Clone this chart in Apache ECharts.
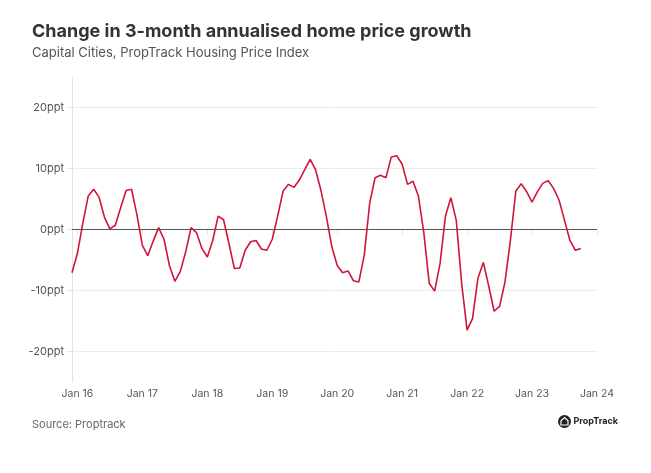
<!DOCTYPE html>
<html>
<head>
<meta charset="utf-8">
<script src="https://cdn.jsdelivr.net/npm/echarts@6/dist/echarts.min.js"></script>
<style>
html,body{margin:0;padding:0;background:#fff;}
#chart{width:651px;height:473px;}
</style>
</head>
<body>
<div id="chart"></div>
<script>
// Monthly observations, Dec 2015 .. Oct 2023 (ppt)
const startYear = 2015, startMonth = 11; // Dec 2015
const endYear = 2024, endMonth = 0;      // axis runs to Jan 2024
const growthChange = [
  -7.1, -3.9, 1.0, 5.5, 6.6, 5.3, 2.0, 0.1, 0.7, 3.6, 6.4, 6.6,
  2.4, -2.6, -4.3, -1.9, 0.3, -1.6, -5.9, -8.5, -6.9, -3.7, 0.3, -0.5,
  -3.1, -4.5, -1.8, 2.2, 1.6, -2.3, -6.4, -6.3, -3.4, -2.0, -1.8, -3.2,
  -3.4, -1.6, 2.2, 6.3, 7.4, 6.9, 8.1, 9.8, 11.5, 9.8, 6.4, 2.1,
  -2.8, -5.9, -7.1, -6.8, -8.4, -8.6, -4.2, 4.3, 8.5, 8.9, 8.5, 11.9,
  12.1, 10.7, 7.4, 7.9, 5.5, -0.5, -8.8, -10.1, -5.6, 2.2, 5.2, 1.5,
  -8.9, -16.5, -14.6, -8.0, -5.4, -9.3, -13.4, -12.6, -8.6, -1.8, 6.3, 7.5,
  6.2, 4.5, 6.2, 7.6, 8.0, 6.7, 4.8, 1.5, -1.8, -3.4, -3.1
];
const yTicks = [-20, -10, 0, 10, 20];
const monthNames = ['Jan','Feb','Mar','Apr','May','Jun','Jul','Aug','Sep','Oct','Nov','Dec'];

const categories = [];
{
  let y = startYear, m = startMonth;
  while (y < endYear || (y === endYear && m <= endMonth)) {
    categories.push(monthNames[m] + ' ' + String(y).slice(2));
    m++; if (m > 11) { m = 0; y++; }
  }
}
const isJan = (idx, val) => String(val).indexOf('Jan') === 0;

const FONT = 'Inter, "Noto Sans", sans-serif';
const chart = echarts.init(document.getElementById('chart'), null, {renderer: 'canvas'});
chart.setOption({
  backgroundColor: '#ffffff',
  animation: false,
  textStyle: {fontFamily: FONT},
  title: [
    {text: 'Change in 3-month annualised home price growth', left: 32, top: 23, padding: 0,
     textStyle: {fontFamily: FONT, fontSize: 18, fontWeight: 'bold', color: '#333'}},
    {text: 'Capital Cities, PropTrack Housing Price Index', left: 32, top: 47, padding: 0,
     textStyle: {fontFamily: FONT, fontSize: 13, fontWeight: 'normal', color: '#555'}},
    {text: 'Source: Proptrack', left: 32, top: 419, padding: 0,
     textStyle: {fontFamily: FONT, fontSize: 11, fontWeight: 'normal', color: '#666'}}
  ],
  grid: {left: 72, right: 54, top: 77, bottom: 91, containLabel: false},
  xAxis: {
    type: 'category',
    data: categories,
    boundaryGap: false,
    axisLine: {show: true, lineStyle: {color: '#e3e3e3'}},
    axisTick: {show: true, interval: isJan, length: 5, lineStyle: {color: '#e3e3e3'}},
    axisLabel: {interval: isJan, color: '#555', fontSize: 10.5, margin: 6, fontFamily: FONT},
    splitLine: {show: false}
  },
  yAxis: {
    type: 'value',
    min: -25, max: 25,
    axisLine: {show: true, lineStyle: {color: '#e3e3e3'}},
    axisTick: {show: true, length: 5, customValues: yTicks, lineStyle: {color: '#e3e3e3'}},
    axisLabel: {customValues: yTicks, color: '#555', fontSize: 11, margin: 8, fontFamily: FONT,
      formatter: v => v + 'ppt'},
    splitLine: {show: true, lineStyle: {color: '#ececec', width: 1}}
  },
  series: [{
    type: 'line',
    data: growthChange,
    symbol: 'none',
    lineStyle: {color: '#d0153b', width: 1.6},
    itemStyle: {color: '#d0153b'},
    z: 3,
    markLine: {
      silent: true, symbol: 'none', label: {show: false},
      lineStyle: {color: '#555', width: 1, type: 'solid'},
      data: [{yAxis: 0}],
      z: 2
    }
  }],
  graphic: [{
    type: 'group', left: 558, top: 415,
    children: [
      {type: 'circle', shape: {cx: 7, cy: 7, r: 6.5}, style: {fill: '#222'}},
      {type: 'polygon', shape: {points: [[7,3],[10.5,6.2],[10.5,10.5],[3.5,10.5],[3.5,6.2]]},
       style: {fill: 'none', stroke: '#fff', lineWidth: 1.2}},
      {type: 'text', x: 16, y: 2.5, style: {text: 'PropTrack', fontSize: 9, fontWeight: 'bold',
       fill: '#222', fontFamily: FONT}}
    ]
  }]
});
</script>
</body>
</html>
